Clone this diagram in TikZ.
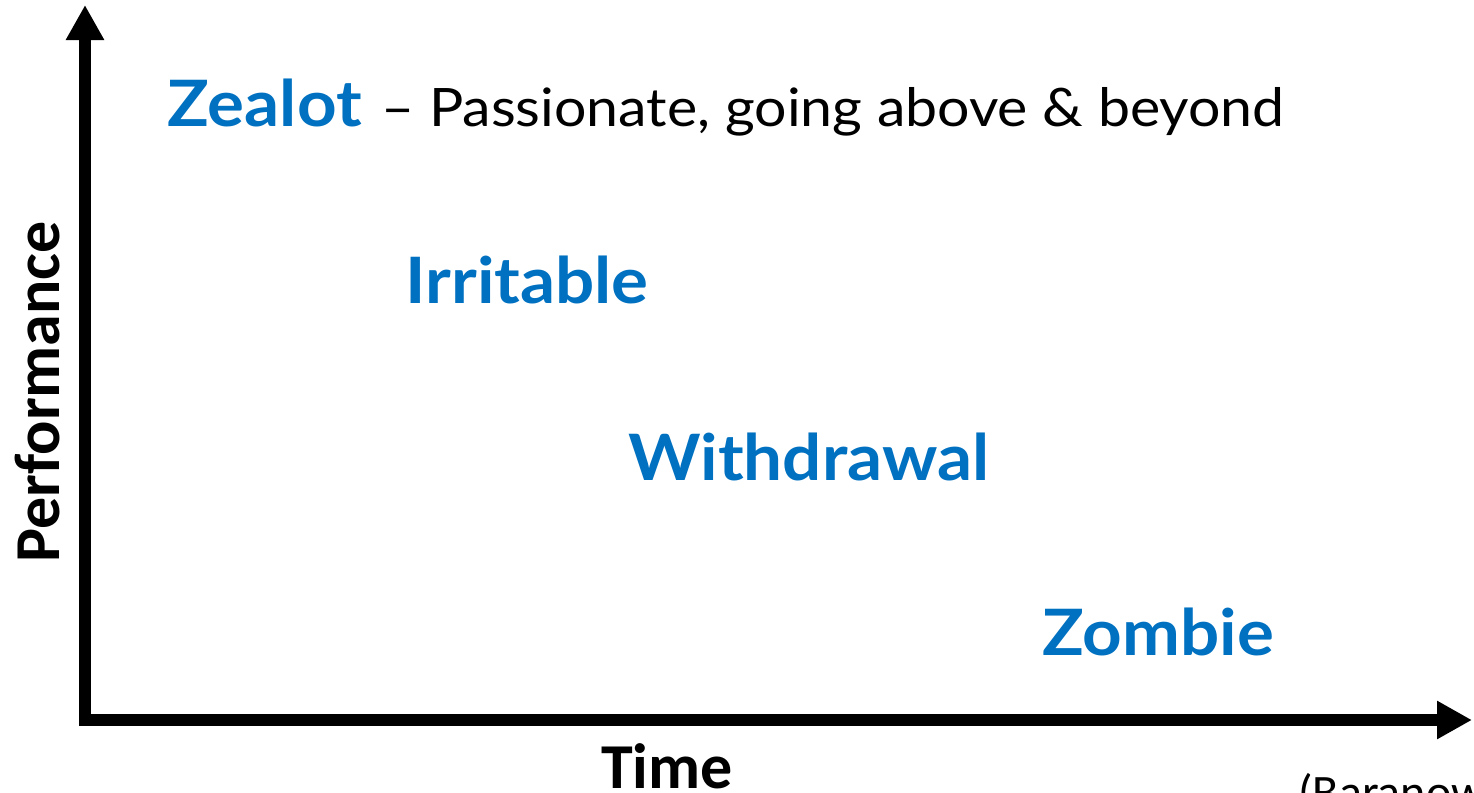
\documentclass[tikz,border=0pt]{standalone}
\usepackage{fontspec}
\setmainfont{Carlito}
\newfontfamily\stagefont[FakeStretch=1.08]{Lato}
\usepackage{xcolor}
\definecolor{stageblue}{RGB}{0,112,192}
\usetikzlibrary{positioning, arrows.meta}
\tikzstyle{Axis} = [
line width=6pt,
miter limit=10,
{Triangle[length=17.5pt, width=18pt]}-{Triangle[length=17.5pt, width=18pt]}]
\tikzstyle{Stage} = [
inner sep=0pt,
anchor=base west,
text=stageblue,
font=\stagefont\bfseries\fontsize{32}{36}\selectfont]
\tikzstyle{AxisLabel} = [
inner sep=0pt,
font=\bfseries\fontsize{32}{38}\selectfont]

\begin{document}
\begin{tikzpicture}[x=0.5pt, y=-0.5pt]
    \useasboundingbox (0,0) rectangle (1474,793);

    \coordinate (top) at (85,5);
    \coordinate (origin) at (85,720);
    \coordinate (right) at (1472,720);
    \draw[Axis] (top) -- (origin) -- (right);

    \node [AxisLabel, rotate=90, anchor=base west] (perf) at (60,563) {Performance};
    \node [AxisLabel, anchor=base] (time) at (667,788) {Time};
    \node [inner sep=0pt, anchor=base west, font=\fontsize{24}{28}\selectfont] (cite) at (1298,808) {(Baranow};

    \node [Stage] (zealot) at (167,126) {Zealot};
    \node [anchor=base west, inner sep=0pt, font=\stagefont\fontsize{26.5}{30}\selectfont]
        (zealotdesc) at (381,126) {\textendash{} Passionate, going above \& beyond};
    \node [Stage] (irritable) at (405,303) {Irritable};
    \node [Stage] (withdrawal) at (628,480) {Withdrawal};
    \node [Stage] (zombie) at (1042,655) {Zombie};
\end{tikzpicture}
\end{document}
